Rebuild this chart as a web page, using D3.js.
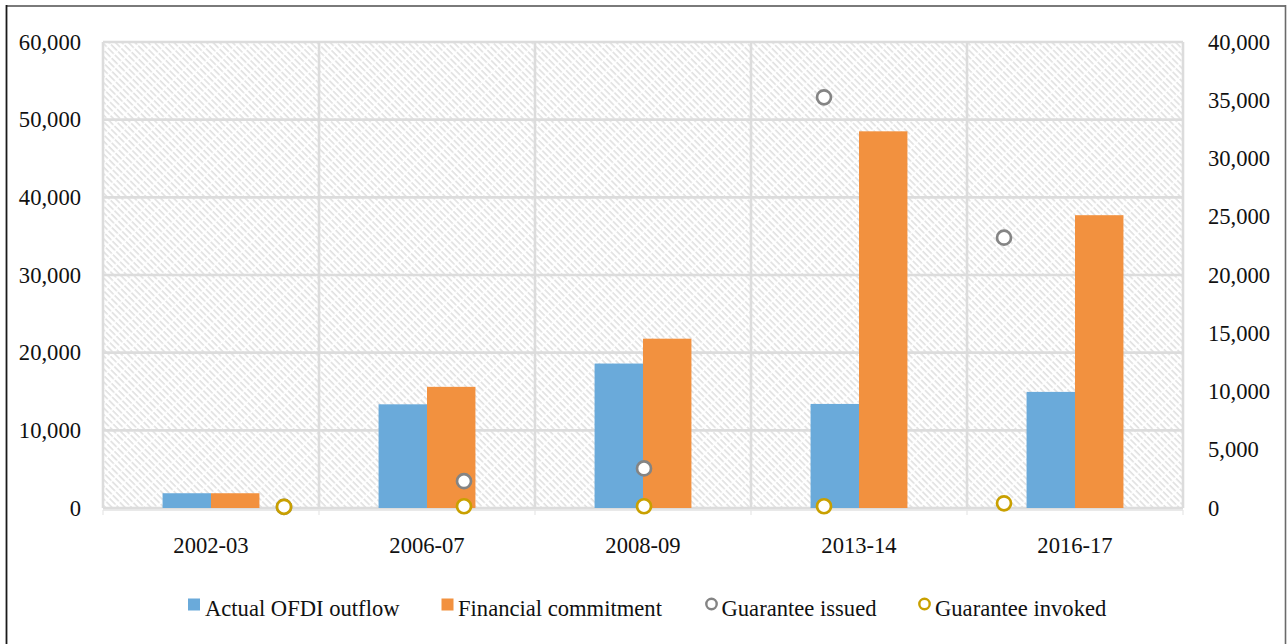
<!DOCTYPE html>
<html>
<head>
<meta charset="utf-8">
<script src="https://cdn.jsdelivr.net/npm/d3@7"></script>
<style>
  html, body { margin: 0; padding: 0; background: #fff; }
  svg { display: block; }
  text { font-family: "Liberation Serif", "Times New Roman", serif; fill: #111; }
</style>
</head>
<body>
<svg id="chart" width="1288" height="644"></svg>
<script>
// Categories (fiscal years)
const categories = ["2002-03", "2006-07", "2008-09", "2013-14", "2016-17"];

// Bar series (left axis)
const actualOFDI = [1900, 13350, 18600, 13400, 14950];
const financialCommitment = [1900, 15600, 21800, 48500, 37700];

// Marker series (right axis)
const guaranteeIssued = [100, 2300, 3400, 35250, 23200];
const guaranteeInvoked = [100, 150, 150, 150, 400];

// Axis ticks
const leftTicks = [0, 10000, 20000, 30000, 40000, 50000, 60000];
const rightTicks = [0, 5000, 10000, 15000, 20000, 25000, 30000, 35000, 40000];

const seriesNames = ["Actual OFDI outflow", "Financial commitment", "Guarantee issued", "Guarantee invoked"];
const colors = {
  "Actual OFDI outflow": "#6aaada",
  "Financial commitment": "#f2913f",
  "Guarantee issued": "#848484",
  "Guarantee invoked": "#c9a000"
};

const svg = d3.select("#chart");
const plotL = 103, plotR = 1183, plotT = 42, plotB = 508;
const W = plotR - plotL, H = plotB - plotT;
const fontSize = 22.6;

// Hatched plot-area fill (downward diagonal lines)
const defs = svg.append("defs");
const step = 4.6;
const pat = defs.append("pattern")
  .attr("id", "hatch")
  .attr("patternUnits", "userSpaceOnUse")
  .attr("width", step).attr("height", 20)
  .attr("patternTransform", "rotate(-45)");
pat.append("rect").attr("width", step).attr("height", 20).attr("fill", "#fff");
pat.append("line")
  .attr("x1", 1).attr("y1", 0).attr("x2", 1).attr("y2", 20)
  .attr("stroke", "#dcdcdc").attr("stroke-width", 1.4)
  .attr("stroke-dasharray", "8.5,1.5");

// Outer frame
svg.append("line").attr("x1", 6).attr("x2", 1286).attr("y1", 6).attr("y2", 6)
  .attr("stroke", "#7a7a7a").attr("stroke-width", 2);
svg.append("line").attr("x1", 6.5).attr("x2", 6.5).attr("y1", 5).attr("y2", 644)
  .attr("stroke", "#1a1a1a").attr("stroke-width", 1.8);
svg.append("line").attr("x1", 1285.5).attr("x2", 1285.5).attr("y1", 5).attr("y2", 644)
  .attr("stroke", "#6a6a6a").attr("stroke-width", 1.6);

// Scales
const x0 = d3.scaleBand().domain(categories).range([plotL, plotR]).padding(0);
const x1 = d3.scaleBand().domain(["Actual OFDI outflow", "Financial commitment"])
  .range([0, x0.bandwidth()]).paddingInner(0).paddingOuter(1.23);
const xp = d3.scalePoint().domain(categories).range([plotL, plotR]).padding(1);
const yL = d3.scaleLinear().domain([0, 60000]).range([plotB, plotT]);
const yR = d3.scaleLinear().domain([0, 40000]).range([plotB, plotT]);

// Plot background
svg.append("rect").attr("x", plotL).attr("y", plotT).attr("width", W).attr("height", H)
  .attr("fill", "url(#hatch)");

// Gridlines
const grid = svg.append("g");
grid.selectAll("line.h").data(leftTicks).join("line")
  .attr("x1", plotL).attr("x2", plotR)
  .attr("y1", d => yL(d)).attr("y2", d => yL(d))
  .attr("stroke", "#dcdcdc").attr("stroke-width", 2.6);
const vLines = categories.map(c => x0(c)).concat([plotR]);
grid.selectAll("line.v").data(vLines).join("line")
  .attr("x1", d => d).attr("x2", d => d)
  .attr("y1", plotT).attr("y2", plotB)
  .attr("stroke", "#dcdcdc").attr("stroke-width", 2.6);

// Category axis
const xAxis = svg.append("g").attr("transform", `translate(0,${plotB + 2})`);
xAxis.append("line").attr("x1", plotL).attr("x2", plotR)
  .attr("stroke", "#e2e2e2").attr("stroke-width", 1.5);
xAxis.selectAll("line.t").data(vLines).join("line")
  .attr("x1", d => d).attr("x2", d => d).attr("y1", 0).attr("y2", 5)
  .attr("stroke", "#e6e6e6").attr("stroke-width", 1.2);
xAxis.selectAll("text").data(categories).join("text")
  .attr("x", d => x0(d) + x0.bandwidth() / 2)
  .attr("y", 43)
  .attr("text-anchor", "middle")
  .attr("font-size", fontSize)
  .text(d => d);

// Left value axis labels
const fmt = d3.format(",");
svg.append("g").selectAll("text").data(leftTicks).join("text")
  .attr("x", 81).attr("y", d => yL(d) + 7.5)
  .attr("text-anchor", "end").attr("font-size", fontSize)
  .text(d => fmt(d));

// Right value axis labels
svg.append("g").selectAll("text").data(rightTicks).join("text")
  .attr("x", 1208).attr("y", d => yR(d) + 7.5)
  .attr("text-anchor", "start").attr("font-size", fontSize)
  .text(d => fmt(d));

// Bars
const barData = categories.map((c, i) => ({
  cat: c,
  vals: [
    { key: "Actual OFDI outflow", v: actualOFDI[i] },
    { key: "Financial commitment", v: financialCommitment[i] }
  ]
}));
svg.append("g").selectAll("g").data(barData).join("g")
  .attr("transform", d => `translate(${x0(d.cat)},0)`)
  .selectAll("rect").data(d => d.vals).join("rect")
  .attr("x", d => x1(d.key))
  .attr("width", x1.bandwidth())
  .attr("y", d => yL(d.v))
  .attr("height", d => plotB - yL(d.v))
  .attr("fill", d => colors[d.key]);

// Marker series
function markers(values, name) {
  svg.append("g").selectAll("circle").data(values).join("circle")
    .attr("cx", (d, i) => xp(categories[i]) + 1)
    .attr("cy", d => yR(d))
    .attr("r", 7)
    .attr("fill", "#fff")
    .attr("stroke", colors[name])
    .attr("stroke-width", 2.7);
}
markers(guaranteeIssued, "Guarantee issued");
markers(guaranteeInvoked, "Guarantee invoked");

// Legend
const legendY = 604;
const legendItems = [
  { name: seriesNames[0], type: "rect", mx: 194, tx: 205 },
  { name: seriesNames[1], type: "rect", mx: 447.5, tx: 458 },
  { name: seriesNames[2], type: "circle", mx: 711.5, tx: 721.5 },
  { name: seriesNames[3], type: "circle", mx: 924.5, tx: 935 }
];
const lg = svg.append("g");
legendItems.forEach(it => {
  if (it.type === "rect") {
    lg.append("rect").attr("x", it.mx - 6).attr("y", legendY - 5.5)
      .attr("width", 12).attr("height", 12).attr("fill", colors[it.name]);
  } else {
    lg.append("circle").attr("cx", it.mx).attr("cy", legendY)
      .attr("r", 5.2).attr("fill", "#fff")
      .attr("stroke", colors[it.name]).attr("stroke-width", 2.4);
  }
  lg.append("text").attr("x", it.tx).attr("y", legendY + 11.5)
    .attr("font-size", fontSize).text(it.name);
});
</script>
</body>
</html>
